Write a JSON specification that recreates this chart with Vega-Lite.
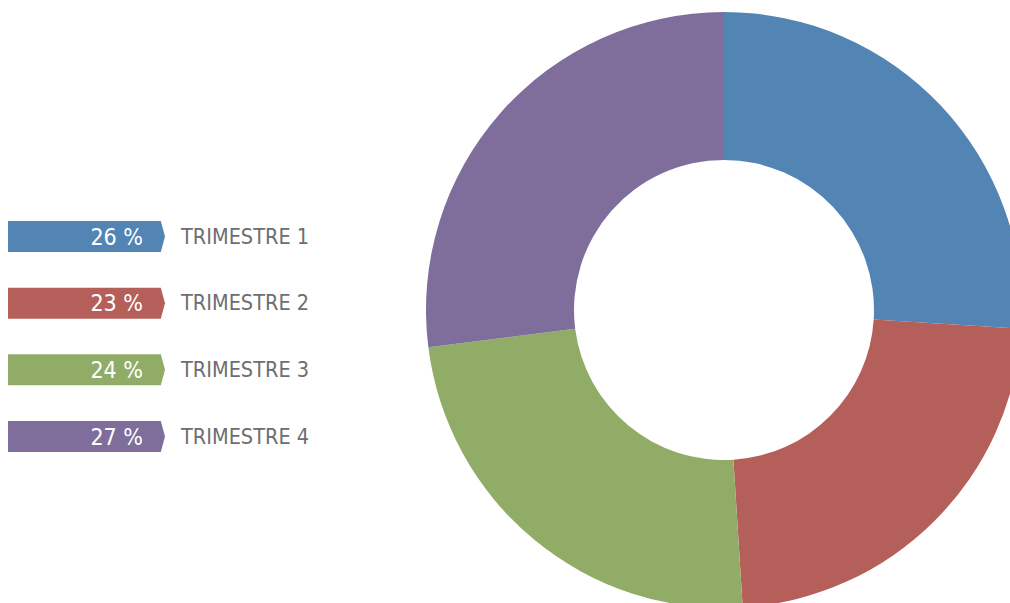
{
  "$schema": "https://vega.github.io/schema/vega-lite/v6.json",
  "padding": 0,
  "spacing": 0,
  "background": "white",
  "config": {"view": {"stroke": null}, "concat": {"spacing": 0}},
  "data": {
    "values": [
      {"trimestre": "TRIMESTRE 1", "pct": 26, "label": "26 %"},
      {"trimestre": "TRIMESTRE 2", "pct": 23, "label": "23 %"},
      {"trimestre": "TRIMESTRE 3", "pct": 24, "label": "24 %"},
      {"trimestre": "TRIMESTRE 4", "pct": 27, "label": "27 %"}
    ]
  },
  "hconcat": [
    {
      "width": 400,
      "height": 603,
      "encoding": {
        "y": {
          "field": "trimestre",
          "type": "nominal",
          "sort": null,
          "scale": {"type": "point", "range": [236.5, 436.5], "padding": 0},
          "axis": null
        }
      },
      "layer": [
        {
          "mark": {
            "type": "point",
            "x": 86.5,
            "shape": "M-1,-0.1975L0.9465,-0.1975L1,0L0.9465,0.1975L-1,0.1975Z",
            "size": 24649,
            "filled": true,
            "opacity": 1,
            "strokeWidth": 0
          },
          "encoding": {
            "color": {
              "field": "trimestre",
              "type": "nominal",
              "sort": null,
              "scale": {"range": ["#5284B4", "#B55F5A", "#90AC67", "#7F6D9B"]},
              "legend": null
            }
          }
        },
        {
          "mark": {
            "type": "text",
            "x": 143,
            "align": "right",
            "baseline": "middle",
            "dy": 1,
            "font": "Liberation Sans Narrow, DejaVu Sans Condensed, sans-serif",
            "fontSize": 23,
            "color": "white"
          },
          "encoding": {"text": {"field": "label", "type": "nominal"}}
        },
        {
          "mark": {
            "type": "text",
            "x": 181,
            "align": "left",
            "baseline": "middle",
            "dy": 1,
            "font": "Liberation Sans Narrow, DejaVu Sans Condensed, sans-serif",
            "fontSize": 21.5,
            "color": "#6D6E70"
          },
          "encoding": {"text": {"field": "trimestre", "type": "nominal"}}
        }
      ]
    },
    {
      "width": 610,
      "height": 603,
      "mark": {
        "type": "arc",
        "outerRadius": 298,
        "innerRadius": 150,
        "xOffset": 19,
        "yOffset": 8.5,
        "clip": true,
        "strokeWidth": 0
      },
      "encoding": {
        "theta": {"field": "pct", "type": "quantitative", "stack": true},
        "order": {"field": "trimestre", "type": "nominal"},
        "color": {
          "field": "trimestre",
          "type": "nominal",
          "sort": null,
          "scale": {"range": ["#5284B4", "#B55F5A", "#90AC67", "#7F6D9B"]},
          "legend": null
        }
      }
    }
  ]
}
